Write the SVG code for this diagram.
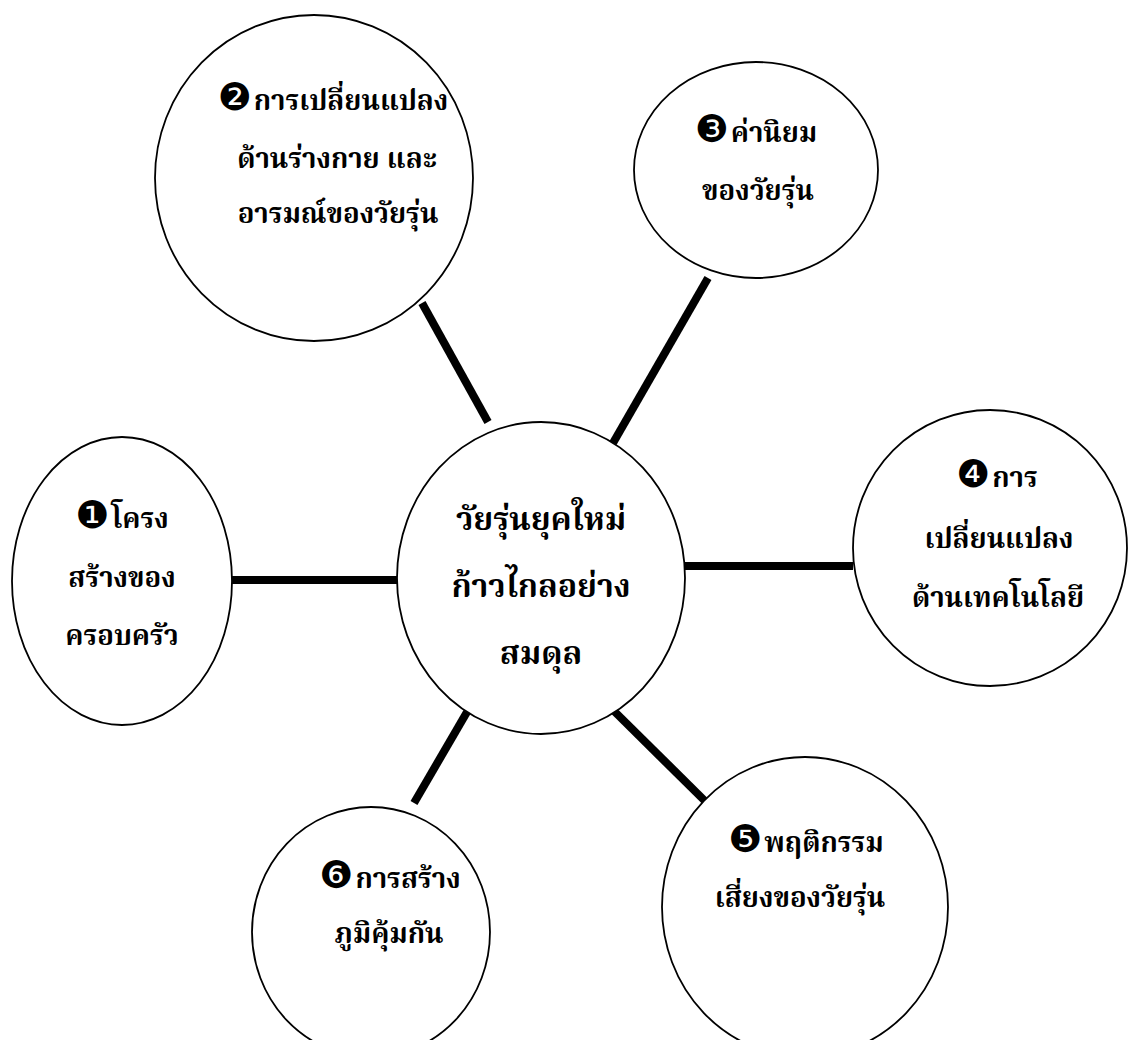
<svg xmlns="http://www.w3.org/2000/svg" width="1130" height="1040" viewBox="0 0 1130 1040">
<style>
.node ellipse{fill:#fff;stroke:#000;stroke-width:1.8}
.conn line{stroke:#000;stroke-width:8;stroke-linecap:butt}
text{font-family:"Noto Serif Thai","Noto Sans Thai Looped","Noto Sans Thai","Noto Sans","DejaVu Sans",serif;font-weight:bold;fill:#000;text-anchor:middle}
.c{font-size:32px}
.t{font-size:27.5px}
.n{font-family:"DejaVu Sans",sans-serif;font-weight:normal;font-size:38px}
</style>
<rect width="1130" height="1040" fill="#fff"/>
<g class="conn">
<line x1="228" y1="580" x2="397" y2="580"/>
<line x1="684" y1="566" x2="853" y2="566"/>
<line x1="422" y1="303" x2="488" y2="422"/>
<line x1="708" y1="278" x2="613" y2="443"/>
<line x1="467" y1="712" x2="414" y2="803"/>
<line x1="614" y1="711" x2="707" y2="803"/>
</g>
<g id="center" class="node">
<ellipse cx="541" cy="578" rx="144" ry="156"/>
<text class="c" x="541" y="530">วัยรุ่นยุคใหม่</text>
<text class="c" x="541" y="597">ก้าวไกลอย่าง</text>
<text class="c" x="541" y="664">สมดุล</text>
</g>
<g id="n1" class="node">
<ellipse cx="122" cy="581" rx="110" ry="144"/>
<text class="t" x="122" y="528"><tspan class="n">❶</tspan><tspan dx="2">โครง</tspan></text>
<text class="t" x="122" y="587">สร้างของ</text>
<text class="t" x="122" y="645">ครอบครัว</text>
</g>
<g id="n2" class="node">
<ellipse cx="314" cy="178" rx="159" ry="163"/>
<text class="t" x="333" y="110"><tspan class="n">❷</tspan><tspan dx="2">การเปลี่ยนแปลง</tspan></text>
<text class="t" x="337" y="168">ด้านร่างกาย และ</text>
<text class="t" x="338" y="223">อารมณ์ของวัยรุ่น</text>
</g>
<g id="n3" class="node">
<ellipse cx="756" cy="170" rx="122" ry="108"/>
<text class="t" x="756" y="142"><tspan class="n">❸</tspan><tspan dx="2">ค่านิยม</tspan></text>
<text class="t" x="758" y="200">ของวัยรุ่น</text>
</g>
<g id="n4" class="node">
<ellipse cx="990" cy="548" rx="137" ry="138"/>
<text class="t" x="997" y="487"><tspan class="n">❹</tspan><tspan dx="2">การ</tspan></text>
<text class="t" x="999" y="548">เปลี่ยนแปลง</text>
<text class="t" x="998" y="607">ด้านเทคโนโลยี</text>
</g>
<g id="n5" class="node">
<ellipse cx="805" cy="907" rx="143" ry="150"/>
<text class="t" x="806" y="852"><tspan class="n">❺</tspan><tspan dx="2">พฤติกรรม</tspan></text>
<text class="t" x="800" y="907">เสี่ยงของวัยรุ่น</text>
</g>
<g id="n6" class="node">
<ellipse cx="371" cy="932" rx="119" ry="125"/>
<text class="t" x="390" y="888"><tspan class="n">❻</tspan><tspan dx="2">การสร้าง</tspan></text>
<text class="t" x="389" y="943">ภูมิคุ้มกัน</text>
</g>
</svg>
